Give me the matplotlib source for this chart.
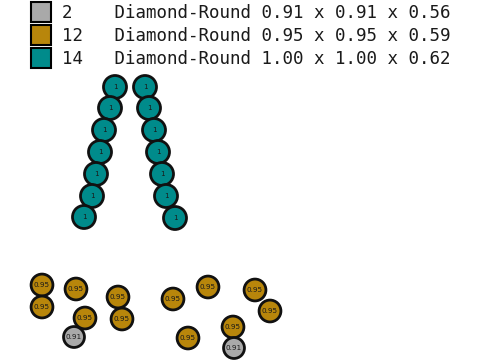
import matplotlib.pyplot as plt
from matplotlib.patches import Circle, Rectangle

# legend rows: count, shape, size
counts = [2, 12, 14]
shapes = ["Diamond-Round", "Diamond-Round", "Diamond-Round"]
dims = [(0.91, 0.91, 0.56), (0.95, 0.95, 0.59), (1.00, 1.00, 0.62)]
colors = ["#a9a9a9", "#b8860b", "#008b8b"]

# stone positions (pixel layout of the design)
teal_x = [115, 110, 104, 100, 96, 92, 84, 145, 149, 154, 158, 162, 166, 175]
teal_y = [87, 108, 130, 152, 174, 196, 217, 87, 108, 130, 152, 174, 196, 218]
gold_x = [42, 42, 76, 118, 85, 122, 173, 208, 255, 270, 188, 233]
gold_y = [285, 307, 289, 297, 318, 319, 299, 287, 290, 311, 338, 327]
gray_x = [74, 234]
gray_y = [337, 348]

fig = plt.figure(figsize=(4.8, 3.6), dpi=100)
ax = fig.add_axes([0, 0, 1, 1])
ax.set_xlim(0, 480)
ax.set_ylim(360, 0)
ax.set_aspect("equal")
ax.axis("off")

# legend
for i in range(len(counts)):
    yc = 12 + i * 23
    ax.add_patch(Rectangle((30.5, yc - 10), 20, 20, facecolor=colors[i],
                           edgecolor="black", linewidth=1.5))
    d = dims[i]
    label = f"{counts[i]:<5}{shapes[i]} {d[0]:.2f} x {d[1]:.2f} x {d[2]:.2f}"
    ax.text(62, yc + 1, label, fontsize=12.6, family="DejaVu Sans Mono",
            va="center", ha="left", color="#1a1a1a")


def stones(xs, ys, size, color):
    r = 11.5 * size
    for x, y in zip(xs, ys):
        ax.add_patch(Circle((x, y), r, facecolor=color, edgecolor="#111111",
                            linewidth=2))
        txt = "1" if size == 1.0 else f"{size:.2f}"
        ax.text(x, y, txt, fontsize=5.2, ha="center", va="center", color="#1a1a1a")


stones(teal_x, teal_y, dims[2][0], colors[2])
stones(gold_x, gold_y, dims[1][0], colors[1])
stones(gray_x, gray_y, dims[0][0], colors[0])

fig.savefig("out.png", dpi=100)
